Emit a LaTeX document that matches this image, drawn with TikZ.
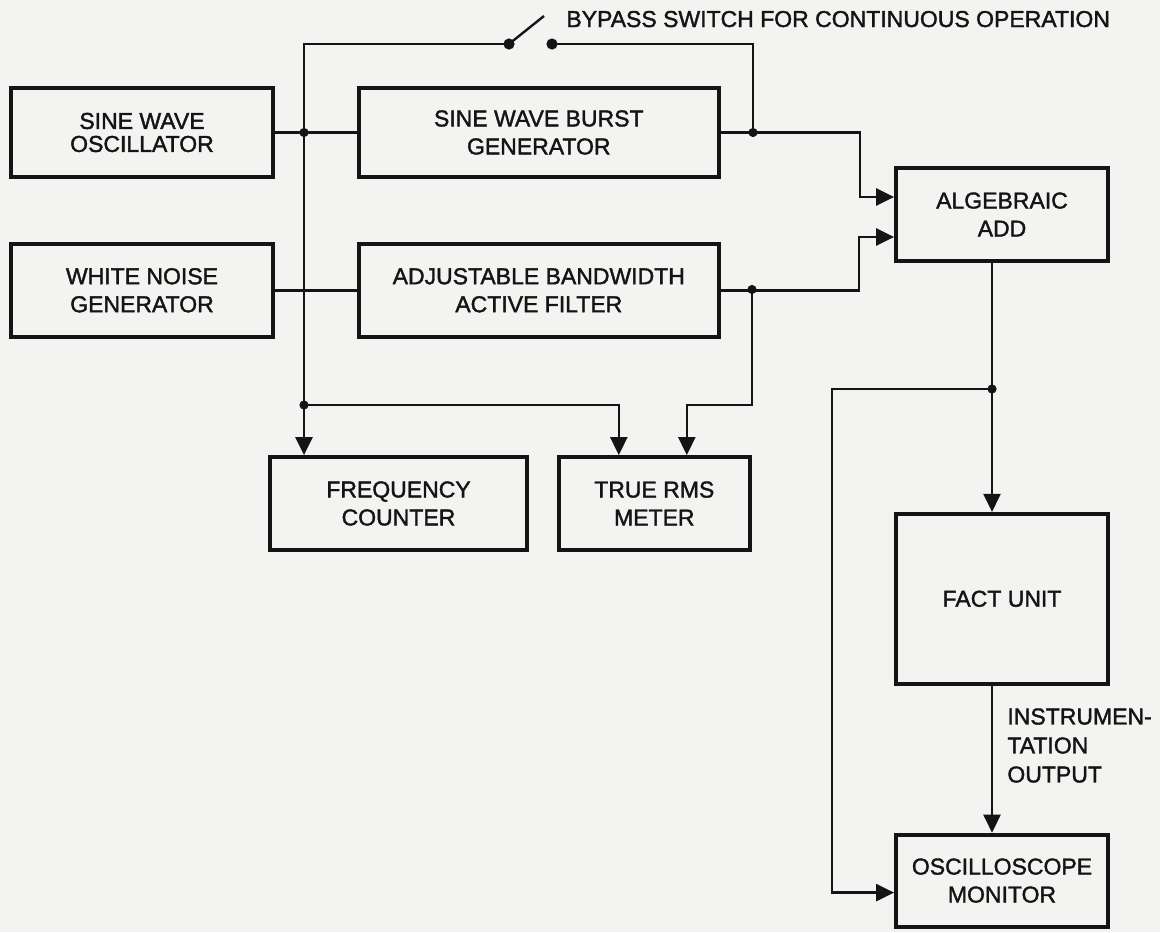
\documentclass[tikz,border=0pt]{standalone}
\usepackage{fontspec}
\setmainfont{Liberation Sans}[BoldFont={Liberation Sans}, BoldFeatures={FakeBold=1.6}]
\usetikzlibrary{arrows.meta, positioning, calc}
\definecolor{ink}{RGB}{20,20,20}
\definecolor{paper}{RGB}{243,243,241}
\tikzset{
  block/.style={rectangle, draw=ink, fill=paper, text=ink,
    align=center, line width=1.9pt, inner sep=2pt,
    font=\fontsize{11.5}{14}\selectfont\bfseries},
  arrow/.style={-{Triangle[length=9pt,width=8.5pt]}, line width=1.2pt, color=ink},
  line/.style={line width=1.2pt, color=ink},
  note/.style={inner sep=0pt, text=ink, align=left,
    font=\fontsize{11.5}{14.5}\selectfont\bfseries}
}

\begin{document}
\begin{tikzpicture}[x=0.5pt, y=-0.5pt]
\fill[paper] (0,0) rectangle (1160,932);
\useasboundingbox (0,0) rectangle (1160,932);

\node[block, minimum width=131pt, minimum height=44.5pt,
  font=\fontsize{11.5}{11.5}\selectfont\bfseries] (osc) at (142,132.5) {SINE WAVE\\OSCILLATOR};
\node[block, minimum width=180pt, minimum height=44.5pt, right=41pt of osc] (burst) {SINE WAVE BURST\\GENERATOR};
\node[block, minimum width=131pt, minimum height=46.5pt, below=31.5pt of osc] (noise) {WHITE NOISE\\GENERATOR};
\node[block, minimum width=180pt, minimum height=46.5pt, right=41pt of noise] (filter) {ADJUSTABLE BANDWIDTH\\ACTIVE FILTER};
\node[block, minimum width=106pt, minimum height=46.5pt] (add) at (1002,214.5) {ALGEBRAIC\\ADD};
\node[block, minimum width=128.5pt, minimum height=46.5pt] (counter) at (398.5,503.5) {FREQUENCY\\COUNTER};
\node[block, minimum width=95.5pt, minimum height=46.5pt, right=14pt of counter] (rms) {TRUE RMS\\METER};
\node[block, minimum width=106pt, minimum height=85pt, below=124.5pt of add] (fact) {FACT UNIT};
\node[block, minimum width=106pt, minimum height=46pt, below=73.5pt of fact] (scope) {OSCILLOSCOPE\\MONITOR};

\node[note, anchor=base west] (bypass) at (566,27) {BYPASS SWITCH FOR CONTINUOUS OPERATION};
\node[note, anchor=north west] (instr) at (1007,708) {INSTRUMEN-\\TATION\\OUTPUT};

% junctions and switch contacts
\coordinate (jOsc) at (304,132.5);
\coordinate (jBurst) at (753,132.5);
\coordinate (jFilt) at (752,289.5);
\coordinate (jMeter) at (304,405);
\coordinate (jAdd) at (992,389);
\coordinate (swA) at (509,44);
\coordinate (swB) at (552,44);

\draw[line] (osc) -- (burst);
\draw[line] (noise) -- (filter);
\draw[line] (jOsc) |- (swA);
\draw[line] (swA) -- ++(35,-28);
\draw[line] (swB) -| (jBurst);
\draw[arrow] (jOsc) -- (jOsc |- counter.north);
\draw[arrow] (burst.east) -- ++(139,0) |- ([yshift=8.75pt]add.west);
\draw[arrow] (filter.east) -- ++(138,0) |- ([yshift=-11.25pt]add.west);
\draw[arrow] (jMeter) -| ([xshift=-17.75pt]rms.north);
\draw[arrow] (jFilt) -- (jFilt |- jMeter) -| ([xshift=16.25pt]rms.north);
\draw[arrow] ([xshift=-5pt]add.south) -- ([xshift=-5pt]fact.north);
\draw[arrow] (jAdd) -- ++(-160,0) |- ([yshift=-6pt]scope.west);
\draw[arrow] ([xshift=-5pt]fact.south) -- ([xshift=-5pt]scope.north);

\foreach \j in {jOsc,jBurst,jFilt,jMeter,jAdd}
  \fill[ink] (\j) circle (2.3pt);
\foreach \s in {swA,swB}
  \fill[ink] (\s) circle (2.8pt);
\end{tikzpicture}
\end{document}
